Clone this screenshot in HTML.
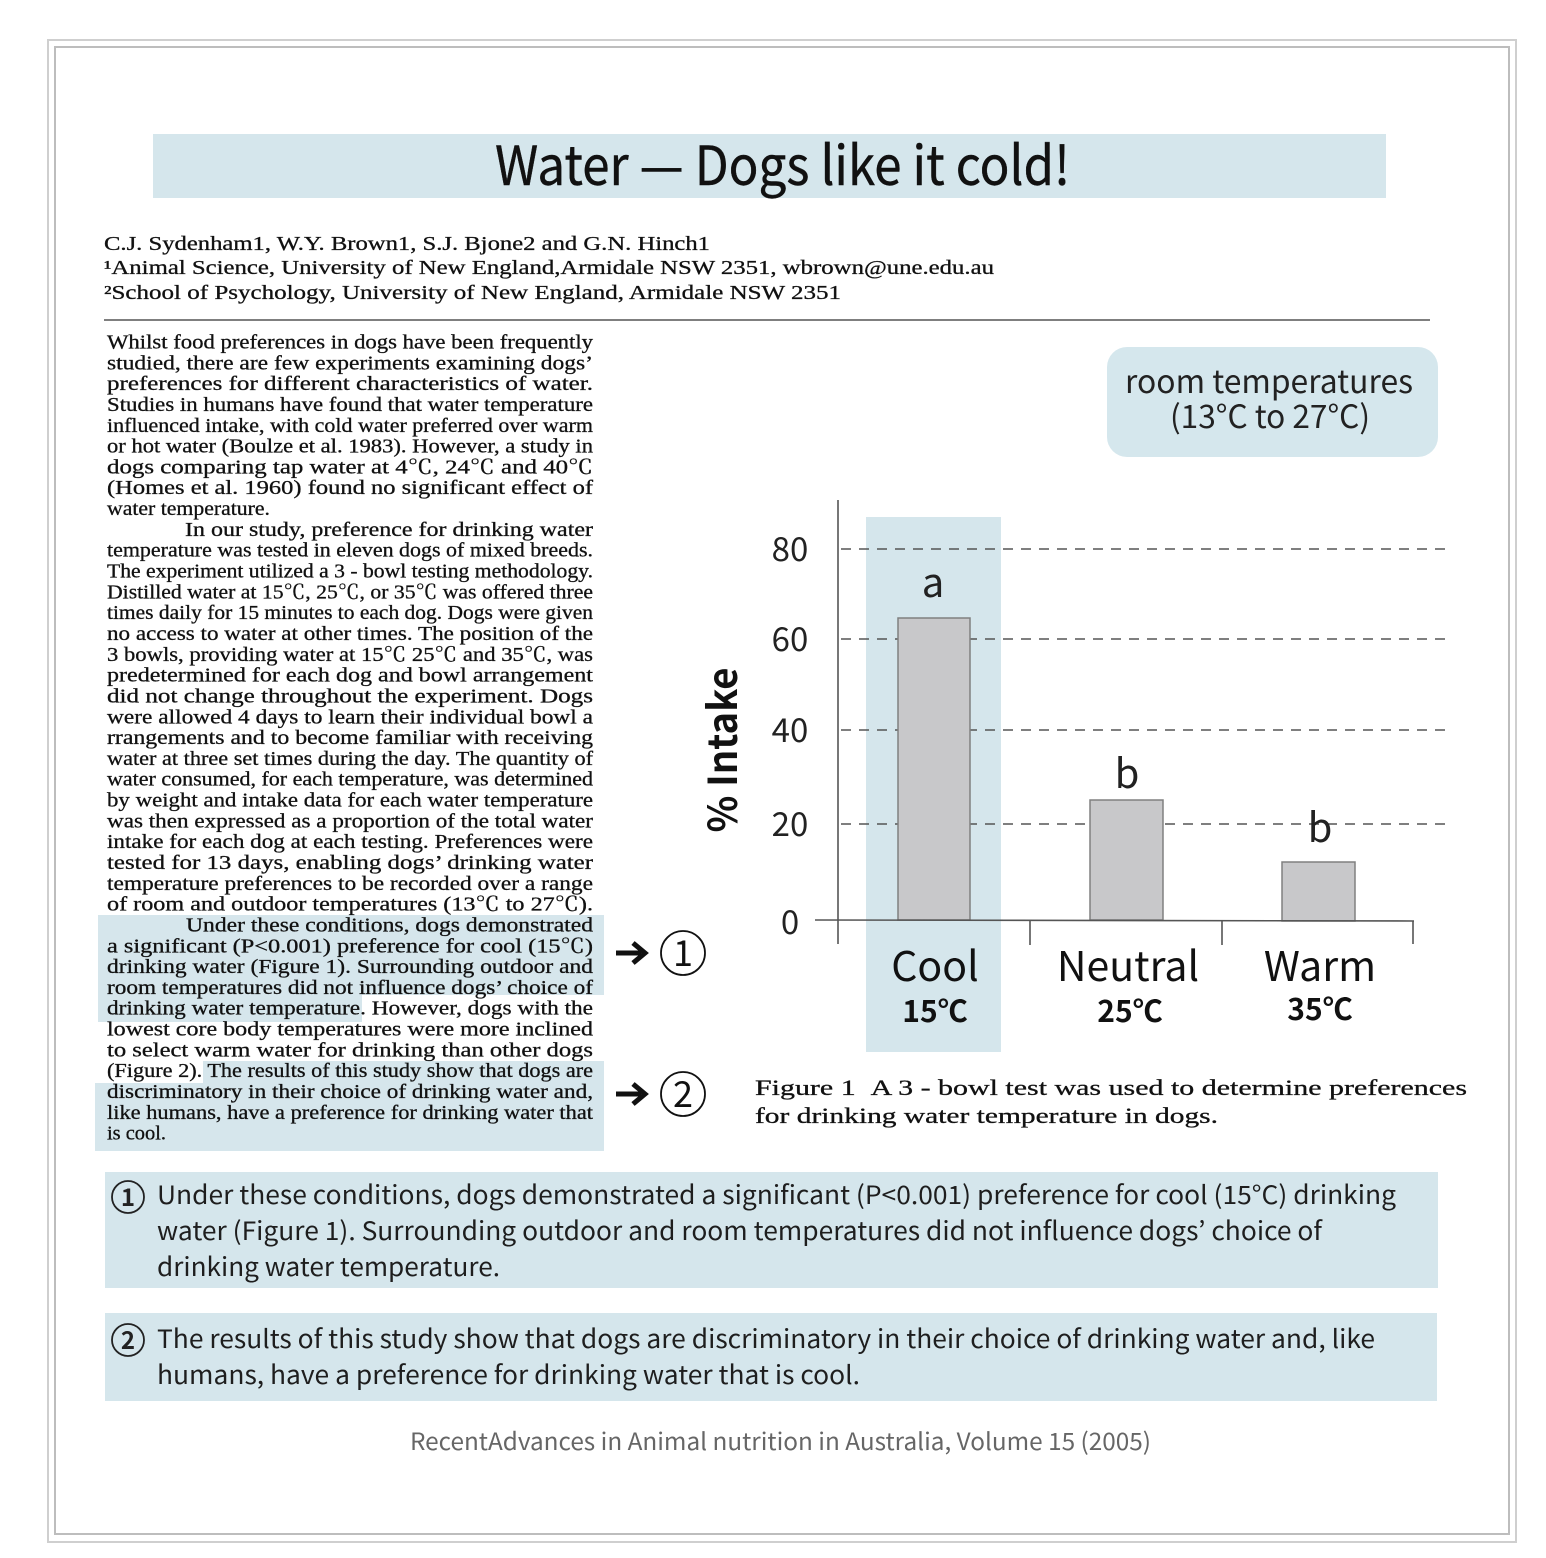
<!DOCTYPE html>
<html>
<head>
<meta charset="utf-8">
<style>
html,body{margin:0;padding:0;background:#fff;}
svg{display:block;}
.serif{font-family:"Liberation Serif","Noto Serif CJK SC",serif;fill:#111;stroke:#111;stroke-width:0.3;}
.sans{font-family:"Noto Sans CJK KR","Liberation Sans",sans-serif;}
</style>
</head>
<body>
<svg width="1546" height="1558" viewBox="0 0 1546 1558" xmlns="http://www.w3.org/2000/svg">
<rect x="0" y="0" width="1546" height="1558" fill="#fff"/>
<!-- frame -->
<rect x="48" y="40" width="1468" height="1502" fill="none" stroke="#cfcfcf" stroke-width="2"/>
<rect x="55" y="47" width="1454" height="1487" fill="none" stroke="#bdbdbd" stroke-width="2"/>

<!-- title -->
<rect x="153" y="134" width="1233" height="64" fill="#d5e6ec"/>
<text class="sans" x="495" y="185" font-size="54" fill="#111" stroke="#111" stroke-width="0.4" textLength="575" lengthAdjust="spacingAndGlyphs">Water — Dogs like it cold!</text>

<!-- authors -->
<text class="serif" x="104" y="250" font-size="20" textLength="606" lengthAdjust="spacingAndGlyphs">C.J. Sydenham1, W.Y. Brown1, S.J. Bjone2 and G.N. Hinch1</text>
<text class="serif" x="104" y="274" font-size="20" textLength="890" lengthAdjust="spacingAndGlyphs">¹Animal Science, University of New England,Armidale NSW 2351, wbrown@une.edu.au</text>
<text class="serif" x="104" y="299" font-size="20" textLength="737" lengthAdjust="spacingAndGlyphs">²School of Psychology, University of New England, Armidale NSW 2351</text>
<line x1="104" y1="320" x2="1430" y2="320" stroke="#555" stroke-width="1.5"/>

<!-- body highlights -->
<rect x="98" y="915" width="506" height="80" fill="#d6e6ec"/>
<rect x="98" y="994" width="264" height="28" fill="#d6e6ec"/>
<rect x="203" y="1061" width="401" height="23" fill="#d6e6ec"/>
<rect x="95" y="1083" width="509" height="68" fill="#d6e6ec"/>

<!-- body text -->
<g class="serif" font-size="19.5">
<text x="107" y="348.5" textLength="486" lengthAdjust="spacingAndGlyphs">Whilst food preferences in dogs have been frequently</text>
<text x="107" y="369.3" textLength="486" lengthAdjust="spacingAndGlyphs">studied, there are few experiments examining dogs’</text>
<text x="107" y="390.1" textLength="486" lengthAdjust="spacingAndGlyphs">preferences for different characteristics of water.</text>
<text x="107" y="411.0" textLength="486" lengthAdjust="spacingAndGlyphs">Studies in humans have found that water temperature</text>
<text x="107" y="431.8" textLength="486" lengthAdjust="spacingAndGlyphs">influenced intake, with cold water preferred over warm</text>
<text x="107" y="452.6" textLength="486" lengthAdjust="spacingAndGlyphs">or hot water (Boulze et al. 1983). However, a study in</text>
<text x="107" y="473.4" textLength="486" lengthAdjust="spacingAndGlyphs">dogs comparing tap water at 4℃, 24℃ and 40℃</text>
<text x="107" y="494.2" textLength="486" lengthAdjust="spacingAndGlyphs">(Homes et al. 1960) found no significant effect of</text>
<text x="107" y="515.1" textLength="163" lengthAdjust="spacingAndGlyphs">water temperature.</text>
<text x="185" y="535.9" textLength="408" lengthAdjust="spacingAndGlyphs">In our study, preference for drinking water</text>
<text x="107" y="556.7" textLength="486" lengthAdjust="spacingAndGlyphs">temperature was tested in eleven dogs of mixed breeds.</text>
<text x="107" y="577.5" textLength="486" lengthAdjust="spacingAndGlyphs">The experiment utilized a 3 - bowl testing methodology.</text>
<text x="107" y="598.3" textLength="486" lengthAdjust="spacingAndGlyphs">Distilled water at 15℃, 25℃, or 35℃ was offered three</text>
<text x="107" y="619.2" textLength="486" lengthAdjust="spacingAndGlyphs">times daily for 15 minutes to each dog. Dogs were given</text>
<text x="107" y="640.0" textLength="486" lengthAdjust="spacingAndGlyphs">no access to water at other times. The position of the</text>
<text x="107" y="660.8" textLength="486" lengthAdjust="spacingAndGlyphs">3 bowls, providing water at 15℃ 25℃ and 35℃, was</text>
<text x="107" y="681.6" textLength="486" lengthAdjust="spacingAndGlyphs">predetermined for each dog and bowl arrangement</text>
<text x="107" y="702.4" textLength="486" lengthAdjust="spacingAndGlyphs">did not change throughout the experiment. Dogs</text>
<text x="107" y="723.3" textLength="486" lengthAdjust="spacingAndGlyphs">were allowed 4 days to learn their individual bowl a</text>
<text x="107" y="744.1" textLength="486" lengthAdjust="spacingAndGlyphs">rrangements and to become familiar with receiving</text>
<text x="107" y="764.9" textLength="486" lengthAdjust="spacingAndGlyphs">water at three set times during the day. The quantity of</text>
<text x="107" y="785.7" textLength="486" lengthAdjust="spacingAndGlyphs">water consumed, for each temperature, was determined</text>
<text x="107" y="806.5" textLength="486" lengthAdjust="spacingAndGlyphs">by weight and intake data for each water temperature</text>
<text x="107" y="827.4" textLength="486" lengthAdjust="spacingAndGlyphs">was then expressed as a proportion of the total water</text>
<text x="107" y="848.2" textLength="486" lengthAdjust="spacingAndGlyphs">intake for each dog at each testing. Preferences were</text>
<text x="107" y="869.0" textLength="486" lengthAdjust="spacingAndGlyphs">tested for 13 days, enabling dogs’  drinking water</text>
<text x="107" y="889.8" textLength="486" lengthAdjust="spacingAndGlyphs">temperature preferences to be recorded over a range</text>
<text x="107" y="910.6" textLength="486" lengthAdjust="spacingAndGlyphs">of room and outdoor temperatures (13℃ to 27℃).</text>
<text x="186" y="931.5" textLength="407" lengthAdjust="spacingAndGlyphs">Under these conditions, dogs demonstrated</text>
<text x="107" y="952.3" textLength="486" lengthAdjust="spacingAndGlyphs">a significant (P&lt;0.001) preference for cool (15℃)</text>
<text x="107" y="973.1" textLength="486" lengthAdjust="spacingAndGlyphs">drinking water (Figure 1). Surrounding outdoor and</text>
<text x="107" y="993.9" textLength="486" lengthAdjust="spacingAndGlyphs">room temperatures did not influence dogs’  choice of</text>
<text x="107" y="1014.7" textLength="486" lengthAdjust="spacingAndGlyphs">drinking water temperature. However, dogs with the</text>
<text x="107" y="1035.6" textLength="486" lengthAdjust="spacingAndGlyphs">lowest core body temperatures were more inclined</text>
<text x="107" y="1056.4" textLength="486" lengthAdjust="spacingAndGlyphs">to select warm water for drinking than other dogs</text>
<text x="107" y="1077.2" textLength="486" lengthAdjust="spacingAndGlyphs">(Figure 2). The results of this study show that dogs are</text>
<text x="107" y="1098.0" textLength="486" lengthAdjust="spacingAndGlyphs">discriminatory in their choice of drinking water and,</text>
<text x="107" y="1118.8" textLength="486" lengthAdjust="spacingAndGlyphs">like humans, have a preference for drinking water that</text>
<text x="107" y="1139.7" textLength="59" lengthAdjust="spacingAndGlyphs">is cool.</text>
</g>

<!-- arrows and circled numbers -->
<g stroke="#111" stroke-width="5" fill="none" stroke-linecap="butt" stroke-linejoin="miter">
<path d="M616 953 H641"/>
<path d="M633 943 L645 953 L633 963"/>
<path d="M616 1094 H641"/>
<path d="M633 1084 L645 1094 L633 1104"/>
</g>
<circle cx="683" cy="953" r="22" fill="none" stroke="#111" stroke-width="1.8"/>
<circle cx="683" cy="1094" r="22" fill="none" stroke="#111" stroke-width="1.8"/>
<text class="sans" x="683" y="966" font-size="36" fill="#111" text-anchor="middle">1</text>
<text class="sans" x="683" y="1107" font-size="36" fill="#111" text-anchor="middle">2</text>

<!-- room temperatures box -->
<rect x="1107" y="347" width="331" height="110" rx="20" ry="20" fill="#d5e7ed"/>
<text class="sans" x="1125" y="393" font-size="32" fill="#222" textLength="288" lengthAdjust="spacingAndGlyphs">room temperatures</text>
<text class="sans" x="1170" y="428" font-size="32" fill="#222" textLength="200" lengthAdjust="spacingAndGlyphs">(13°C to 27°C)</text>

<!-- chart -->
<rect x="866" y="517" width="135" height="535" fill="#d5e6ec"/>
<g stroke="#555" stroke-width="1.6" stroke-dasharray="10 8">
<line x1="841" y1="549" x2="1450" y2="549"/>
<line x1="841" y1="639" x2="1450" y2="639"/>
<line x1="841" y1="730" x2="1452" y2="730"/>
<line x1="841" y1="824" x2="1452" y2="824"/>
</g>
<g fill="#c8c8ca" stroke="#808080" stroke-width="1.5">
<rect x="898" y="618" width="72" height="302"/>
<rect x="1090" y="800" width="73" height="120"/>
<rect x="1282" y="862" width="73" height="59"/>
</g>
<g stroke="#555" stroke-width="1.6" fill="none">
<line x1="838" y1="500" x2="838" y2="944"/>
<line x1="815" y1="920" x2="1414" y2="921"/>
<line x1="1030" y1="920" x2="1030" y2="945"/>
<line x1="1222" y1="921" x2="1222" y2="945"/>
<line x1="1413" y1="921" x2="1413" y2="944"/>
</g>
<g class="sans" font-size="33" fill="#222" text-anchor="middle">
<text x="790" y="561">80</text>
<text x="790" y="651">60</text>
<text x="790" y="742">40</text>
<text x="790" y="836">20</text>
<text x="790" y="934">0</text>
</g>
<text class="sans" transform="translate(737,750) rotate(-90)" x="0" y="0" font-size="40" font-weight="bold" fill="#111" text-anchor="middle" textLength="165" lengthAdjust="spacingAndGlyphs">% Intake</text>
<g class="sans" font-size="40" fill="#222" text-anchor="middle">
<text x="933" y="597">a</text>
<text x="1127" y="788">b</text>
<text x="1320" y="842">b</text>
</g>
<g class="sans" font-size="41" fill="#111" text-anchor="middle">
<text x="935" y="981">Cool</text>
<text x="1128" y="981">Neutral</text>
<text x="1320" y="981">Warm</text>
</g>
<g class="sans" font-size="30" font-weight="bold" fill="#111" text-anchor="middle">
<text x="935" y="1022">15℃</text>
<text x="1130" y="1022">25℃</text>
<text x="1320" y="1020">35℃</text>
</g>

<!-- caption -->
<text class="serif" x="755" y="1095" font-size="22" textLength="712" lengthAdjust="spacingAndGlyphs">Figure 1&#160;&#160;A 3 - bowl test was used to determine preferences</text>
<text class="serif" x="755" y="1123" font-size="22" textLength="463" lengthAdjust="spacingAndGlyphs">for drinking water temperature in dogs.</text>

<!-- bottom boxes -->
<rect x="105" y="1172" width="1333" height="116" fill="#d5e6ec"/>
<rect x="105" y="1313" width="1332" height="88" fill="#d5e6ec"/>
<circle cx="128" cy="1197" r="16" fill="none" stroke="#222" stroke-width="1.8"/>
<text class="sans" x="128" y="1206" font-size="24" font-weight="bold" fill="#222" text-anchor="middle">1</text>
<circle cx="128" cy="1340" r="16" fill="none" stroke="#222" stroke-width="1.8"/>
<text class="sans" x="128" y="1349" font-size="24" font-weight="bold" fill="#222" text-anchor="middle">2</text>
<g class="sans" font-size="25.5" fill="#1e1e1e">
<text x="157" y="1204" textLength="1239" lengthAdjust="spacingAndGlyphs">Under these conditions, dogs demonstrated a significant (P&lt;0.001) preference for cool (15°C) drinking</text>
<text x="157" y="1240" textLength="1165" lengthAdjust="spacingAndGlyphs">water (Figure 1). Surrounding outdoor and room temperatures did not influence dogs’ choice of</text>
<text x="157" y="1276" textLength="343" lengthAdjust="spacingAndGlyphs">drinking water temperature.</text>
<text x="157" y="1348" textLength="1218" lengthAdjust="spacingAndGlyphs">The results of this study show that dogs are discriminatory in their choice of drinking water and, like</text>
<text x="157" y="1384" textLength="703" lengthAdjust="spacingAndGlyphs">humans, have a preference for drinking water that is cool.</text>
</g>

<!-- footer -->
<text class="sans" x="410" y="1450" font-size="24" fill="#666" textLength="741" lengthAdjust="spacingAndGlyphs">RecentAdvances in Animal nutrition in Australia, Volume 15 (2005)</text>
</svg>
</body>
</html>
